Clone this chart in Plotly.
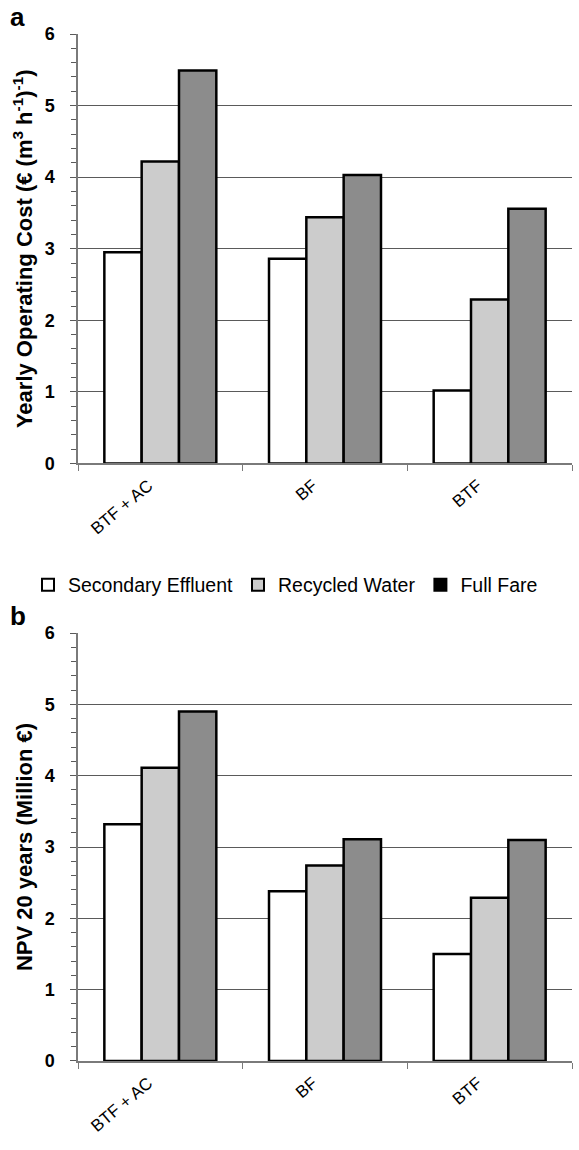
import plotly.graph_objects as go

categories = ["BTF + AC", "BF", "BTF"]
series_names = ["Secondary Effluent", "Recycled Water", "Full Fare"]
cost_secondary = [2.95, 2.86, 1.02]
cost_recycled = [4.22, 3.44, 2.29]
cost_fullfare = [5.49, 4.03, 3.56]
npv_secondary = [3.32, 2.38, 1.50]
npv_recycled = [4.11, 2.74, 2.29]
npv_fullfare = [4.90, 3.11, 3.10]
y_ticks = [0, 1, 2, 3, 4, 5, 6]

bar_colors = ["#ffffff", "#cccccc", "#8c8c8c"]
legend_colors = ["#ffffff", "#cccccc", "#000000"]
FONT = "Liberation Sans, Arial, sans-serif"

W, H = 579, 1150
ML, MR, MT, MB = 0, 7, 34, 89
PW = W - ML - MR
x_dom = [78 / PW, 1]

fig = go.Figure()
panels = [
    ([cost_secondary, cost_recycled, cost_fullfare], "x", "y"),
    ([npv_secondary, npv_recycled, npv_fullfare], "x2", "y2"),
]
for vals, xa, ya in panels:
    for name, v, c in zip(series_names, vals, bar_colors):
        fig.add_trace(go.Bar(
            x=categories, y=v, name=name, xaxis=xa, yaxis=ya,
            marker=dict(color=c, line=dict(color="#000000", width=2.5)),
            showlegend=False,
        ))

for name, c in zip(series_names, legend_colors):
    fig.add_trace(go.Scatter(
        x=[None], y=[None], mode="markers", name=name,
        marker=dict(symbol="square", size=12, color=c,
                    line=dict(color="#000000", width=1.5)),
        xaxis="x", yaxis="y", showlegend=True,
    ))

yax_common = dict(
    range=[0, 6], tickvals=y_ticks, showgrid=True, gridcolor="#5a5a5a", gridwidth=1,
    showline=True, linecolor="#7a7a7a", linewidth=1.5,
    ticks="outside", ticklen=6, tickcolor="#5a5a5a",
    minor=dict(dtick=0.2, ticks="outside", ticklen=5, tickcolor="#5a5a5a", showgrid=False),
    tickfont=dict(family=FONT, size=18, color="#000000", weight="bold"),
    ticklabelstandoff=12, zeroline=False, fixedrange=True,
)
xax_common = dict(
    type="category", showline=True, linecolor="#7a7a7a", linewidth=1.5,
    ticks="outside", tickson="boundaries", ticklen=6, tickcolor="#7a7a7a",
    tickangle=-40, tickfont=dict(family=FONT, size=17, color="#000000"),
    ticklabelshift=-12, ticklabelstandoff=4,
    showgrid=False, fixedrange=True,
)

fig.update_layout(
    width=W, height=H,
    margin=dict(l=ML, r=MR, t=MT, b=MB, autoexpand=False),
    paper_bgcolor="#ffffff", plot_bgcolor="#ffffff",
    barmode="group", bargap=0.32, bargroupgap=0,
    font=dict(family=FONT, color="#000000"),
    xaxis=dict(domain=x_dom, anchor="y", **xax_common),
    yaxis=dict(domain=[0.5818, 1], anchor="x",
               title=dict(text="Yearly Operating Cost (€ (m<sup>3</sup> h<sup>-1</sup>)<sup>-1</sup>)",
                          font=dict(family=FONT, size=22, weight="bold"), standoff=6),
               **yax_common),
    xaxis2=dict(domain=x_dom, anchor="y2", **xax_common),
    yaxis2=dict(domain=[0, 0.4167], anchor="x2",
                title=dict(text="NPV 20 years (Million €)",
                           font=dict(family=FONT, size=22, weight="bold"), standoff=6),
                **yax_common),
    legend=dict(orientation="h", x=28 / PW, xanchor="left", y=0.4635, yanchor="middle",
                font=dict(family=FONT, size=19.5, color="#000000"),
                itemsizing="constant", itemwidth=30, tracegroupgap=0),
    annotations=[
        dict(text="<b>a</b>", x=8 / PW, y=1.0, xref="paper", yref="paper",
             xanchor="left", yanchor="bottom", showarrow=False,
             font=dict(family=FONT, size=26)),
        dict(text="<b>b</b>", x=8 / PW, y=0.4167, xref="paper", yref="paper",
             xanchor="left", yanchor="bottom", showarrow=False,
             font=dict(family=FONT, size=26)),
    ],
)

fig.write_html("out.html")
